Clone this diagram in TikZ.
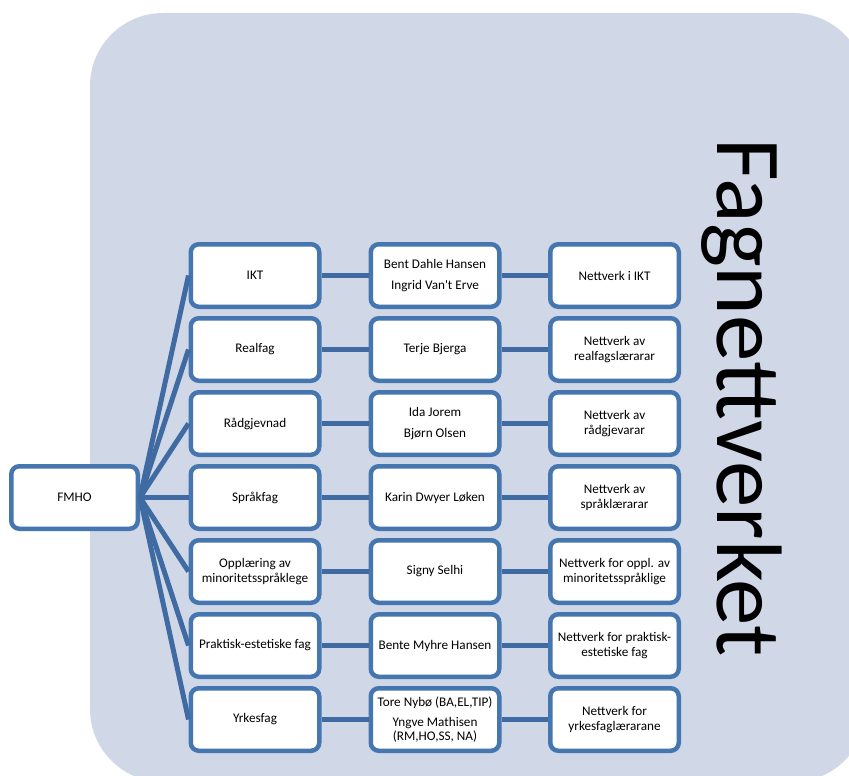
\documentclass[tikz,border=0pt]{standalone}
\usepackage{fontspec}
\newfontfamily\carl{Carlito}
\definecolor{bgc}{HTML}{D0D8E8}
\definecolor{boxc}{HTML}{4676B0}
\definecolor{linkc}{HTML}{3F6BA2}
\begin{document}
\begin{tikzpicture}[x=1pt,y=-1pt,
  box/.style={draw=boxc, fill=white, line width=4.5pt, rounded corners=8pt,
    minimum width=128.5pt, minimum height=62.5pt, align=center, inner sep=2pt,
    font=\carl\fontsize{13.2}{14.5}\selectfont},
  link/.style={draw=linkc, line width=5pt}]
\useasboundingbox (0,0) rectangle (849,776);
\begin{scope}
  \clip (0,0) rectangle (849,776);
  \fill[bgc, rounded corners=73pt] (90,13) rectangle (866,782);
\end{scope}

\node[font=\carl\fontsize{93}{93}\selectfont, rotate=-90, anchor=base west, inner sep=0pt] (title) at (717,138) {Fagnettverket};

\node[box, minimum width=126.5pt] (f) at (74.5,497.5) {FMHO};

\node[box] (a1) at (255,275.5) {IKT};
\node[box] (a2) at (435,275.5) {Bent Dahle Hansen\\[6.5pt]Ingrid Van't Erve};
\node[box] (a3) at (614.5,275.5) {Nettverk i IKT};

\node[box] (b1) at (255,349.5) {Realfag};
\node[box] (b2) at (435,349.5) {Terje Bjerga};
\node[box] (b3) at (614.5,349.5) {Nettverk av\\realfagslærarar};

\node[box] (c1) at (255,423.5) {Rådgjevnad};
\node[box] (c2) at (435,423.5) {Ida Jorem\\[6.5pt]Bjørn Olsen};
\node[box] (c3) at (614.5,423.5) {Nettverk av\\rådgjevarar};

\node[box] (d1) at (255,497.5) {Språkfag};
\node[box] (d2) at (435,497.5) {Karin Dwyer Løken};
\node[box] (d3) at (614.5,497.5) {Nettverk av\\språklærarar};

\node[box] (e1) at (255,571.5) {Opplæring av\\minoritetsspråklege};
\node[box] (e2) at (435,571.5) {Signy Selhi};
\node[box] (e3) at (614.5,571.5) {Nettverk for oppl. av\\minoritetsspråklige};

\node[box] (g1) at (255,645.5) {Praktisk-estetiske fag};
\node[box] (g2) at (435,645.5) {Bente Myhre Hansen};
\node[box] (g3) at (614.5,645.5) {Nettverk for praktisk-\\estetiske fag};

\node[box] (h1) at (255,719.5) {Yrkesfag};
\node[box] (h2) at (435,719.5) {Tore Nybø (BA,EL,TIP)\\[5.5pt]Yngve Mathisen\\(RM,HO,SS, NA)};
\node[box] (h3) at (614.5,719.5) {Nettverk for\\yrkesfaglærarane};

\foreach \r in {a,b,c,d,e,g,h}{
  \draw[link] (f.east) -- (\r1.west);
  \draw[link] (\r1.east) -- (\r2.west);
  \draw[link] (\r2.east) -- (\r3.west);
}
\end{tikzpicture}
\end{document}
